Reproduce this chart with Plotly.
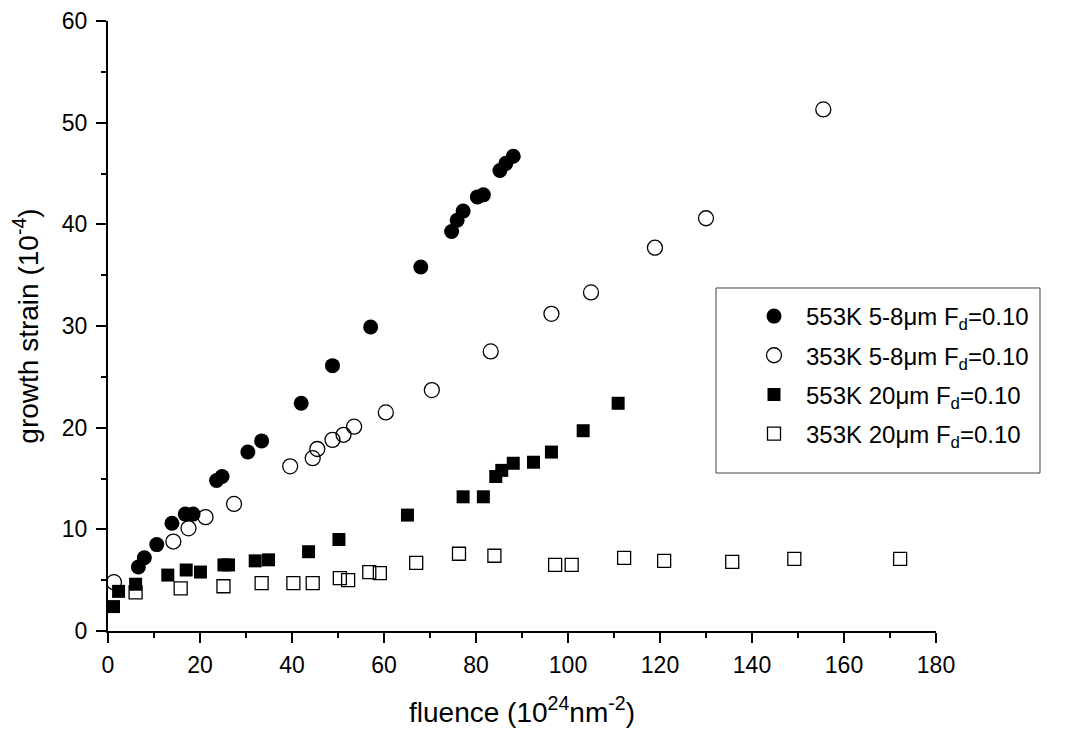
import plotly.graph_objects as go

# 553K 5-8um Fd=0.10 (filled circles)
fc_x = [6.6, 7.9, 10.6, 13.9, 16.8, 18.5, 23.6, 24.8, 30.4, 33.4, 42.0, 48.8, 57.1, 68.0, 74.7, 75.9, 77.2, 80.3, 81.6, 85.2, 86.5, 88.1]
fc_y = [6.3, 7.2, 8.5, 10.6, 11.5, 11.5, 14.8, 15.2, 17.6, 18.7, 22.4, 26.1, 29.9, 35.8, 39.3, 40.4, 41.3, 42.7, 42.9, 45.3, 46.0, 46.7]

# 353K 5-8um Fd=0.10 (open circles)
oc_x = [1.3, 14.2, 17.5, 21.2, 27.4, 39.6, 44.5, 45.5, 48.8, 51.2, 53.5, 60.4, 70.4, 83.2, 96.4, 105.0, 118.9, 130.0, 155.5]
oc_y = [4.8, 8.8, 10.1, 11.2, 12.5, 16.2, 17.0, 17.9, 18.8, 19.3, 20.1, 21.5, 23.7, 27.5, 31.2, 33.3, 37.7, 40.6, 51.3]

# 553K 20um Fd=0.10 (filled squares)
fs_x = [1.2, 2.3, 6.0, 13.0, 17.0, 20.1, 25.2, 26.2, 32.0, 34.9, 43.6, 50.2, 65.1, 77.2, 81.6, 84.3, 85.6, 88.1, 92.5, 96.4, 103.3, 110.9]
fs_y = [2.4, 3.9, 4.6, 5.5, 6.0, 5.8, 6.5, 6.5, 6.9, 7.0, 7.8, 9.0, 11.4, 13.2, 13.2, 15.2, 15.8, 16.5, 16.6, 17.6, 19.7, 22.4]

# 353K 20um Fd=0.10 (open squares)
os_x = [6.0, 15.8, 25.1, 33.4, 40.3, 44.5, 50.4, 52.2, 56.8, 59.1, 67.0, 76.3, 84.0, 97.2, 100.8, 112.2, 120.9, 135.7, 149.2, 172.2]
os_y = [3.8, 4.2, 4.4, 4.7, 4.7, 4.7, 5.2, 5.0, 5.8, 5.7, 6.7, 7.6, 7.4, 6.5, 6.5, 7.2, 6.9, 6.8, 7.1, 7.1]

names = ["553K 5-8μm F<sub>d</sub>=0.10", "353K 5-8μm F<sub>d</sub>=0.10",
         "553K 20μm F<sub>d</sub>=0.10", "353K 20μm F<sub>d</sub>=0.10"]

FONT = "Liberation Sans"

fig = go.Figure()
fig.add_trace(go.Scatter(x=fc_x, y=fc_y, mode="markers", name=names[0], legendgroup="a",
                         marker=dict(symbol="circle", size=15, color="black")))
fig.add_trace(go.Scatter(x=oc_x, y=oc_y, mode="markers", name=names[1], legendgroup="b",
                         marker=dict(symbol="circle-open", size=15, color="black", line=dict(width=1.3))))
fig.add_trace(go.Scatter(x=fs_x, y=fs_y, mode="markers", name=names[2], legendgroup="c",
                         marker=dict(symbol="square", size=13, color="black")))
fig.add_trace(go.Scatter(x=os_x, y=os_y, mode="markers", name=names[3], legendgroup="d",
                         marker=dict(symbol="square-open", size=13, color="black", line=dict(width=1.3))))

axis_common = dict(showgrid=False, zeroline=False, showline=True, linecolor="black", linewidth=2,
                   ticks="outside", ticklen=10, tickwidth=2, tickcolor="black", automargin=False,
                   tickfont=dict(family=FONT, size=23, color="black"))

# legend frame (drawn as a shape so its padding matches the reference)
fig.add_shape(type="rect", xref="paper", yref="paper",
              x0=0.7343, x1=1.1256, y0=0.259, y1=0.5623,
              line=dict(color="#444", width=1), fillcolor="rgba(0,0,0,0)", layer="below")

fig.update_layout(
    width=1065, height=731,
    margin=dict(l=100, r=137, t=13, b=108),
    paper_bgcolor="white", plot_bgcolor="white",
    font=dict(family=FONT, color="black"),
    xaxis=dict(range=[0, 180], dtick=20, tick0=0, ticklabelstandoff=2,
               minor=dict(dtick=10, ticklen=5, tickwidth=2, ticks="outside", tickcolor="black"),
               title=dict(text="fluence (10<sup>24</sup>nm<sup>-2</sup>)", font=dict(family=FONT, size=28), standoff=26),
               **axis_common),
    yaxis=dict(range=[0, 60], dtick=10, tick0=0, ticklabelstandoff=4,
               minor=dict(dtick=5, ticklen=5, tickwidth=2, ticks="outside", tickcolor="black"),
               title=dict(text="growth strain (10<sup>-4</sup>)", font=dict(family=FONT, size=28), standoff=20),
               **axis_common),
    legend=dict(x=0.7657, y=0.5525, xanchor="left", yanchor="top",
                borderwidth=0, bgcolor="rgba(0,0,0,0)",
                font=dict(family=FONT, size=24, color="black"),
                tracegroupgap=5, traceorder="grouped", itemwidth=54),
    showlegend=True,
)

fig.write_html("out.html")
